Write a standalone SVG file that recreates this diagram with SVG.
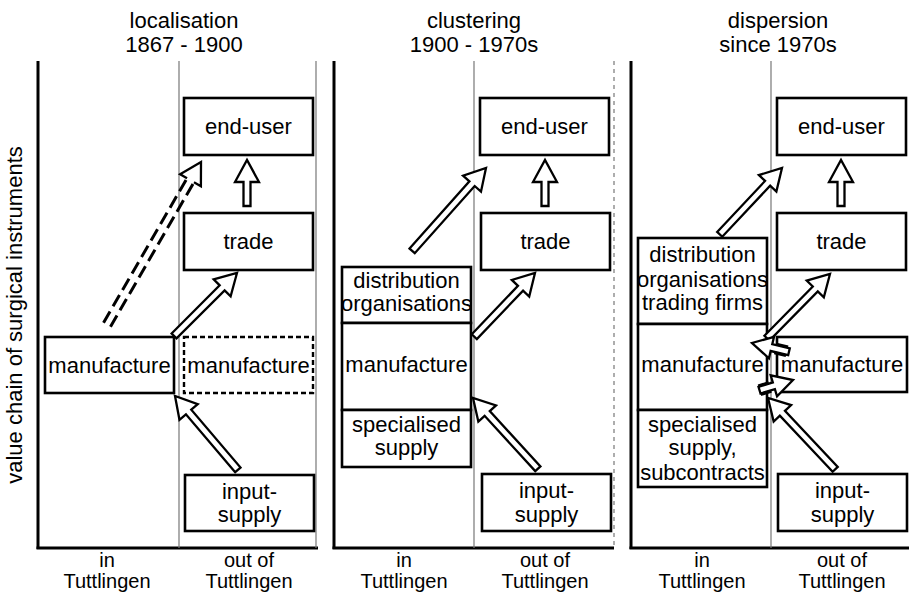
<svg xmlns="http://www.w3.org/2000/svg" width="909" height="594" viewBox="0 0 909 594">
<style>
text{font-family:"Liberation Sans",Arial,sans-serif;font-size:22px;fill:#000;text-anchor:middle}
text.lab{font-size:20px}
.box{fill:#fff;stroke:#000;stroke-width:2.6}
.dbox{fill:#fff;stroke:#000;stroke-width:2.4;stroke-dasharray:5 3}
.axis{stroke:#000;stroke-width:3;fill:none}
.div{stroke:#777;stroke-width:1.2;fill:none}
.arr{fill:#fff;stroke:#000;stroke-width:2.3;stroke-linejoin:miter}
.dsh{stroke:#000;stroke-width:3;stroke-dasharray:13 6;fill:none}
.brk{stroke:#000;stroke-width:3;fill:none}
</style>
<rect width="909" height="594" fill="#fff"/>
<g id="axes">
<line class="axis" x1="38" y1="61" x2="38" y2="549"/>
<line class="axis" x1="36.5" y1="548" x2="318" y2="548"/>
<line class="div" x1="179" y1="61" x2="179" y2="548"/>
<line class="div" x1="316" y1="61" x2="316" y2="548"/>
<line class="axis" x1="334" y1="61" x2="334" y2="549"/>
<line class="axis" x1="332.5" y1="548" x2="614" y2="548"/>
<line class="div" x1="474" y1="61" x2="474" y2="548"/>
<line class="div" x1="614" y1="61" x2="614" y2="548" stroke-dasharray="4 4"/>
<line class="axis" x1="631" y1="61" x2="631" y2="549"/>
<line class="axis" x1="629.5" y1="548" x2="909" y2="548"/>
<line class="div" x1="771" y1="61" x2="771" y2="548"/>
</g>
<g id="titles">
<text x="184" y="28">localisation</text>
<text x="184" y="52">1867 - 1900</text>
<text x="474" y="28">clustering</text>
<text x="474" y="52">1900 - 1970s</text>
<text x="778" y="28">dispersion</text>
<text x="778" y="52">since 1970s</text>
<text transform="translate(22,315) rotate(-90)">value chain of surgical instruments</text>
<text class="lab" x="107" y="567">in</text>
<text class="lab" x="107" y="588">Tuttlingen</text>
<text class="lab" x="249" y="567">out of</text>
<text class="lab" x="249" y="588">Tuttlingen</text>
<text class="lab" x="404" y="567">in</text>
<text class="lab" x="404" y="588">Tuttlingen</text>
<text class="lab" x="545" y="567">out of</text>
<text class="lab" x="545" y="588">Tuttlingen</text>
<text class="lab" x="702" y="567">in</text>
<text class="lab" x="702" y="588">Tuttlingen</text>
<text class="lab" x="842" y="567">out of</text>
<text class="lab" x="842" y="588">Tuttlingen</text>
</g>
<g id="p1-enduser"><rect class="box" x="184" y="98" width="129" height="57"/><text x="248.5" y="134">end-user</text></g>
<g id="p1-trade"><rect class="box" x="184" y="213" width="129" height="57"/><text x="248.5" y="249">trade</text></g>
<g id="p1-manufacture-in"><rect class="box" x="45" y="337" width="129" height="56"/><text x="109.5" y="373">manufacture</text></g>
<g id="p1-manufacture-out"><rect class="dbox" x="184" y="337" width="129" height="56"/><text x="248.5" y="373">manufacture</text></g>
<g id="p1-input"><rect class="box" x="185" y="475" width="129" height="56"/><text x="249.5" y="499">input-</text><text x="249.5" y="522">supply</text></g>

<g id="p2-enduser"><rect class="box" x="480" y="98" width="129" height="57"/><text x="544.5" y="134">end-user</text></g>
<g id="p2-trade"><rect class="box" x="481" y="213" width="129" height="57"/><text x="545.5" y="249">trade</text></g>
<g id="p2-distribution"><rect class="box" x="342" y="267" width="129" height="56"/><text x="406.5" y="288">distribution</text><text x="406.5" y="311">organisations</text></g>
<g id="p2-manufacture"><rect class="box" x="342" y="323" width="129" height="87"/><text x="406.5" y="372">manufacture</text></g>
<g id="p2-specialised"><rect class="box" x="342" y="410" width="129" height="57"/><text x="406.5" y="432">specialised</text><text x="406.5" y="455">supply</text></g>
<g id="p2-input"><rect class="box" x="482" y="474" width="129" height="57"/><text x="546.5" y="498">input-</text><text x="546.5" y="522">supply</text></g>

<g id="p3-enduser"><rect class="box" x="777" y="98" width="129" height="57"/><text x="841.5" y="134">end-user</text></g>
<g id="p3-trade"><rect class="box" x="777" y="213" width="129" height="57"/><text x="841.5" y="249">trade</text></g>
<g id="p3-distribution"><rect class="box" x="638" y="238" width="129" height="86"/><text x="702.5" y="262">distribution</text><text x="702.5" y="287">organisations</text><text x="702.5" y="310">trading firms</text></g>
<g id="p3-manufacture-in"><rect class="box" x="638" y="324" width="129" height="86"/><text x="702.5" y="372">manufacture</text></g>
<g id="p3-specialised"><rect class="box" x="638" y="410" width="129" height="77"/><text x="702.5" y="432">specialised</text><text x="702.5" y="455">supply,</text><text x="702.5" y="480">subcontracts</text></g>
<g id="p3-manufacture-out"><rect class="box" x="777" y="337" width="130" height="55"/><text x="842" y="372">manufacture</text></g>
<g id="p3-input"><rect class="box" x="778" y="474" width="129" height="57"/><text x="842.5" y="498">input-</text><text x="842.5" y="522">supply</text></g>

<g id="connectors">
<g transform="translate(201,162) rotate(-60)">
<line class="dsh" x1="-188" y1="-4" x2="-21" y2="-4"/>
<line class="dsh" x1="-188" y1="4" x2="-21" y2="4"/>
<polyline class="arr" points="-21,-4 -21,-12 0,0 -21,12 -21,4"/>
</g>
<g transform="translate(247,160) rotate(-90)"><polygon class="arr" points="-46,-3.5 -22,-3.5 -22,-12 0,0 -22,12 -22,3.5 -46,3.5"/></g>
<g transform="translate(237,273) rotate(-45)"><polygon class="arr" points="-89,-3.5 -21,-3.5 -21,-12 0,0 -21,12 -21,3.5 -89,3.5"/></g>
<g transform="translate(175,396) rotate(-130.4)"><polygon class="arr" points="-97,-3.5 -21,-3.5 -21,-12 0,0 -21,12 -21,3.5 -97,3.5"/></g>

<g transform="translate(486,168) rotate(-48.3)"><polygon class="arr" points="-111,-3.5 -21,-3.5 -21,-12 0,0 -21,12 -21,3.5 -111,3.5"/></g>
<g transform="translate(545,160) rotate(-90)"><polygon class="arr" points="-46,-3.5 -22,-3.5 -22,-12 0,0 -22,12 -22,3.5 -46,3.5"/></g>
<g transform="translate(535,273) rotate(-46.4)"><polygon class="arr" points="-88,-3.5 -21,-3.5 -21,-12 0,0 -21,12 -21,3.5 -88,3.5"/></g>
<g transform="translate(473,398) rotate(-132.5)"><polygon class="arr" points="-96,-3.5 -21,-3.5 -21,-12 0,0 -21,12 -21,3.5 -96,3.5"/></g>

<g transform="translate(782,168) rotate(-46.8)"><polygon class="arr" points="-91,-3.5 -21,-3.5 -21,-12 0,0 -21,12 -21,3.5 -91,3.5"/></g>
<g transform="translate(841,160) rotate(-90)"><polygon class="arr" points="-46,-3.5 -22,-3.5 -22,-12 0,0 -22,12 -22,3.5 -46,3.5"/></g>
<g transform="translate(830,274) rotate(-45.5)"><polygon class="arr" points="-90,-3.5 -21,-3.5 -21,-12 0,0 -21,12 -21,3.5 -90,3.5"/></g>
<g transform="translate(768,398) rotate(-133.3)"><polygon class="arr" points="-98,-3.5 -21,-3.5 -21,-12 0,0 -21,12 -21,3.5 -98,3.5"/></g>
<g transform="translate(752,343) rotate(-166.7)">
<polygon class="arr" points="-38,-3.5 -20,-3.5 -20,-11 0,0 -20,11 -20,3.5 -38,3.5"/>
<line class="brk" x1="-36" y1="-4.5" x2="-24" y2="-4.5"/>
<line class="brk" x1="-36" y1="4.5" x2="-24" y2="4.5"/>
</g>
<g transform="translate(793,380) rotate(-16.9)">
<polygon class="arr" points="-35,-3.5 -20,-3.5 -20,-11 0,0 -20,11 -20,3.5 -35,3.5"/>
<line class="brk" x1="-35" y1="-4.5" x2="-24" y2="-4.5"/>
<line class="brk" x1="-35" y1="4.5" x2="-24" y2="4.5"/>
</g>
</g>
</svg>
